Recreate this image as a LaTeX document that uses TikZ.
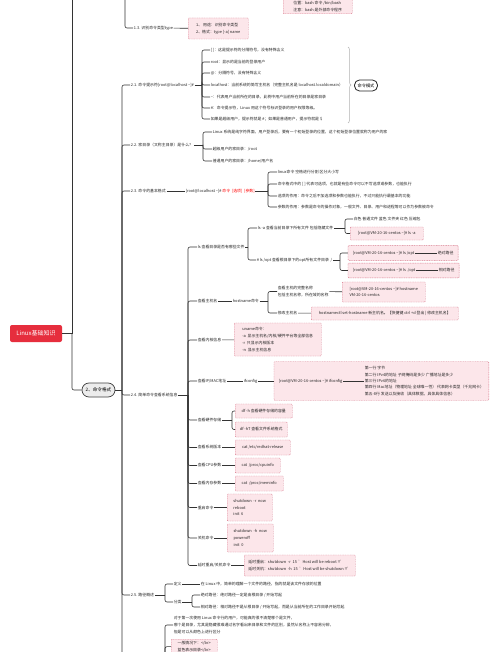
\documentclass[tikz,border=0pt]{standalone}
\usepackage{fontspec}
\setmainfont{Noto Sans CJK SC}
\usetikzlibrary{fit,backgrounds,decorations.pathreplacing}
\definecolor{boxpink}{HTML}{FCE6EA}
\definecolor{boxred}{HTML}{D9798C}
\definecolor{rootred}{HTML}{E62E3D}
\newcommand\mmf{\fontsize{3.9}{6.8}\selectfont}
\begin{document}
\begin{tikzpicture}[x=1pt,y=-1pt,
  lbl/.style={anchor=west, inner sep=0.6pt, font=\mmf, align=left, text=black!85},
  cmd/.style={lbl, draw=boxred, fill=boxpink, dash pattern=on 1pt off 0.7pt, line width=0.45pt, rounded corners=0.8pt, inner xsep=3pt, inner ysep=2pt},
  conn/.style={draw=black!80, line width=0.6pt},
  brk/.style={conn, rounded corners=2pt}]
\useasboundingbox (0,0) rectangle (500,652);

% top part
\node[cmd, anchor=south west, minimum width=69pt] (tb) at (283,14) {位置：bash 命令 /bin/bash\\注意：bash 是外部命令程序};
\coordinate (top1) at (125,-2);
\node[lbl] (n13) at (133,28) {1.3. 识别命令类型type};
\node[cmd, minimum width=60pt, minimum height=21pt] (b13) at (188,28.5) {1、 用途：识别命令类型\\2、格式：type [-a] name};

% root
\node[fill=rootred, text=white, rounded corners=2pt, minimum width=52pt, minimum height=17pt, font=\fontsize{6}{7}\selectfont] (root) at (36,333.5) {Linux基础知识};
\coordinate (j0) at (72,333.5);
\coordinate (top0) at (72,-2);
\node[draw=black!75, fill=gray!15, line width=0.7pt, rounded corners=7pt, minimum width=33pt, minimum height=14pt, font=\fontsize{4.6}{5}\selectfont] (n2) at (98.5,390) {2、命令格式};
\coordinate (b2) at (122,390);
\coordinate (n26) at (130,690);

% 2.1
\node[lbl] (n21) at (130,85) {2.1. 命令提示符[root@localhost \textasciitilde]\#};
\coordinate (b21) at (202,85);
\node[lbl] (p1) at (210,50) {[ ]：这是提示符的分隔符号，没有特殊含义};
\node[lbl] (p2) at (210,62) {root：显示的是当前的登录用户};
\node[lbl] (p3) at (210,73) {@：分隔符号，没有特殊含义};
\node[lbl] (p4) at (210,85) {localhost：当前系统的简写主机名（完整主机名是 localhost.localdomain）};
\node[lbl] (p5) at (210,97) {\textasciitilde：代表用户当前所在的目录，此例中用户当前所在的目录是家目录};
\node[lbl] (p6) at (210,108) {\#：命令提示符，Linux 用这个符号标识登录的用户权限等级。};
\node[lbl] (p7) at (210,119) {如果是超级用户，提示符就是 \#；如果是普通用户，提示符就是 \$};
\draw[decorate, decoration={brace, amplitude=3pt}, gray!60, line width=0.5pt] (348,47) -- (348,123);
\node[draw=black!85, line width=0.8pt, rounded corners=5pt, minimum width=23pt, minimum height=11pt, inner sep=1pt, font=\fontsize{4.2}{5}\selectfont] (mode) at (366,85.5) {命令模式};

% 2.2
\node[lbl] (n22) at (130,145) {2.2. 家目录（又称主目录）是什么？};
\coordinate (b22) at (203,145);
\node[lbl] (h1) at (212,132) {Linux 系统是纯字符界面，用户登录后，要有一个初始登录的位置，这个初始登录位置就称为用户的家};
\node[lbl] (h2) at (212,149) {超级用户的家目录：/root};
\node[lbl] (h3) at (212,161) {普通用户的家目录：/home/用户名};

% 2.3
\node[lbl] (n23) at (130,191) {2.3. 命令的基本格式};
\node[lbl] (fmt) at (185,191) {[root@localhost \textasciitilde]\# \textcolor{red}{命令 \ [选项] \ [参数]}};
\coordinate (b23) at (268,191);
\node[lbl] (f1) at (277,172) {linux命令 空格进行分割 区分大小写};
\node[lbl] (f2) at (277,184) {命令格式中的 [ ] 代表可选项，也就是有些命令可以不写选项或参数，也能执行};
\node[lbl] (f3) at (277,196) {选项的作用：命令之后不加选项和参数也能执行，不过只能执行最基本的功能};
\node[lbl] (f4) at (277,207) {参数的作用：参数是命令的操作对象，一般文件、目录、用户和进程等可以作为参数被命令};

% 2.4
\node[lbl] (n24) at (130,395) {2.4. 简单命令查看系统信息};
\coordinate (b24) at (188,395);
\node[lbl] (s1) at (197,247) {ls 查看目录是否有哪些文件};
\node[lbl] (s2) at (197,301) {查看主机名};
\node[lbl] (s3) at (197,340) {查看内核信息};
\node[lbl] (s4) at (197,381) {查看IP/MAC地址};
\node[lbl] (s5) at (197,420) {查看硬件存储};
\node[lbl] (s6) at (197,447.5) {查看系统版本};
\node[lbl] (s7) at (197,465.5) {查看CPU参数};
\node[lbl] (s8) at (197,483.5) {查看内存参数};
\node[lbl] (s9) at (197,507.5) {重启命令};
\node[lbl] (s10) at (197,538) {关机命令};
\node[lbl] (s11) at (197,565.5) {延时重启/关机命令};

% ls
\coordinate (bls) at (248,247);
\node[lbl] (lsa) at (257,228) {ls -a 查看当前目录下所有文件 包括隐藏文件};
\node[lbl] (lsopt) at (256,260) {\# ls /opt 查看根目录下的opt所有文件目录 \ /};
\coordinate (blsa) at (345,228);
\node[lbl] (colr) at (353,219) {白色 普通文件 蓝色 文件夹 红色 压缩包};
\node[cmd, minimum width=73pt, minimum height=13pt] (lsabox) at (350,233.5) {[root@VM-20-16-centos \textasciitilde]\# ls -a};
\coordinate (blsopt) at (340,260);
\node[lbl] (optA) at (352,253) {[root@VM-20-16-centos \textasciitilde]\# ls /opt};
\node[lbl] (absA) at (437,253) {绝对路径};
\node[lbl] (optB) at (352,270.5) {[root@VM-20-16-centos \textasciitilde]\# ls ./opt};
\node[lbl] (relB) at (438,270.5) {相对路径};

% hostname
\node[lbl] (hn) at (232,301) {hostname命令};
\coordinate (bhn) at (268,301);
\node[lbl] (hn1) at (277,291.5) {查看主机的完整名称\\包括主机名称，所在域的名称};
\node[lbl] (hn2) at (277,313) {修改主机名};
\node[cmd, minimum width=83pt, minimum height=20pt] (hb1) at (342,292) {[root@VM-20-16-centos \textasciitilde]\# hostname\\VM-20-16-centos};
\node[cmd, minimum width=147pt, minimum height=13pt] (hb2) at (311,313.5) {hostnamectl set-hostname 新主机名。【快捷键 ctrl +d 登出 | 修改主机名】};

% kernel, ip
\node[cmd, minimum width=87pt, minimum height=33pt] (kb) at (234,339.5) {uname命令：\\-a \ 显示主机名/内核/硬件平台等全部信息\\-r \ 只显示内核版本\\-n \ 显示主机信息};
\node[lbl] (ifc) at (243,381) {ifconfig};
\node[lbl] (ifcmd) at (278,381) {[root@VM-20-16-centos \textasciitilde]\# ifconfig};
\node[lbl, font=\fontsize{3.9}{6.3}\selectfont] (iflines) at (364,381) {第一行 字节\\第二行 IPv4的地址 子网掩码是多少 广播地址是多少\\第三行 IPv6的地址\\第四行 Mac地址（物理地址 全球唯一性） 代表网卡类型（千兆网卡）\\第五-8行 发送以及接收（具体数据，具体具体信息）};

% df and the rest
\coordinate (bdf) at (232,420);
\node[cmd, minimum width=57pt, minimum height=14pt] (df1) at (235,411) {df -h 查看硬件存储的容量};
\node[cmd, minimum width=52pt, minimum height=15pt] (df2) at (235,429.5) {df -hT 查看文件系统格式};
\node[cmd, minimum width=55pt, minimum height=15pt] (rel) at (235,447.5) {cat /etc/redhat-release};
\node[cmd, minimum width=45pt, minimum height=15pt] (cpu) at (235,465.5) {cat \ /proc/cpuinfo};
\node[cmd, minimum width=48pt, minimum height=15pt] (mem) at (235,483.5) {cat \ /proc/meminfo};
\node[cmd, minimum width=45pt, minimum height=27pt] (rb) at (227,507.5) {shutdown \ -r \ now\\reboot\\init \ 6};
\node[cmd, minimum width=46pt, minimum height=28pt] (pb) at (227,538) {shutdown \ -h \ now\\poweroff\\init \ 0};
\node[cmd, minimum width=111pt, minimum height=21pt] (db) at (244,565.5) {延时重启：shutdown \ -r \ 15 \ 'Host will be reboot !!'\\延时关机：shutdown \ -h \ 15 \ 'Host will be shutdown !!'};

% 2.5
\node[lbl] (n25) at (130,595) {2.5. 路径概述};
\coordinate (b25) at (165,595);
\node[lbl] (def) at (173,584) {定义};
\node[lbl] (defx) at (200,584) {在 Linux 中，简单的理解一个文件的路径，指的就是该文件存放的位置};
\node[lbl] (cls) at (173,602) {分类};
\coordinate (bcls) at (192,602);
\node[lbl] (abs) at (200,595) {绝对路径：绝对路径一定是由根目录 / 开始写起};
\node[lbl] (rel2) at (200,607) {相对路径：相对路径不是从根目录 / 开始写起，而是从当前所在的工作目录开始写起};

% last branch
\coordinate (b26) at (165,690);
\node[lbl] (note) at (173,625) {对于第一次使用 Linux 命令行的用户，可能真的很不清楚哪个是文件，\\哪个是目录，尤其是隐藏很难通过名字看出来目录和文件的区别，虽然从名称上不容易分辨，\\但是可以从颜色上进行区分};
\node[cmd, anchor=north west, minimum width=46pt] (colbox) at (171,639) {一般情况下：</br>\\蓝色表示目录</br>};

\begin{scope}[on background layer]
\fill[white] (0,0) rectangle (500,652);
\node[cmd, anchor=center, fit=(optA)(absA), inner xsep=4pt, inner ysep=4.5pt] (optAbox) {};
\node[cmd, anchor=center, fit=(optB)(relB), inner xsep=4pt, inner ysep=4.5pt] (optBbox) {};
\node[cmd, anchor=center, fit=(ifcmd)(iflines), inner sep=4pt] (ifbox) {};
\end{scope}

\path[brk] (top1) |- (n13);
\path[conn] (n13) -- (b13);
\path[conn] (root) -- (j0);
\path[conn] (j0) -- (top0);
\path[brk] (j0) |- (n2);
\path[conn] (n2) -- (b2);
\path[brk] (b2) |- (n21);
\path[brk] (b2) |- (n22);
\path[brk] (b2) |- (n23);
\path[brk] (b2) |- (n24);
\path[brk] (b2) |- (n25);
\path[brk] (b2) |- (n26);

\path[conn] (n21) -- (b21);
\path[brk] (b21) |- (p1);
\path[brk] (b21) |- (p2);
\path[brk] (b21) |- (p3);
\path[brk] (b21) |- (p4);
\path[brk] (b21) |- (p5);
\path[brk] (b21) |- (p6);
\path[brk] (b21) |- (p7);

\path[conn] (n22) -- (b22);
\path[brk] (b22) |- (h1);
\path[brk] (b22) |- (h2);
\path[brk] (b22) |- (h3);

\path[conn] (n23) -- (fmt);
\path[conn] (fmt) -- (b23);
\path[brk] (b23) |- (f1);
\path[brk] (b23) |- (f2);
\path[brk] (b23) |- (f3);
\path[brk] (b23) |- (f4);

\path[conn] (n24) -- (b24);
\path[brk] (b24) |- (s1);
\path[brk] (b24) |- (s2);
\path[brk] (b24) |- (s3);
\path[brk] (b24) |- (s4);
\path[brk] (b24) |- (s5);
\path[brk] (b24) |- (s6);
\path[brk] (b24) |- (s7);
\path[brk] (b24) |- (s8);
\path[brk] (b24) |- (s9);
\path[brk] (b24) |- (s10);
\path[brk] (b24) |- (s11);

\path[conn] (s1) -- (bls);
\path[brk] (bls) |- (lsa);
\path[brk] (bls) |- (lsopt);
\path[conn] (lsa) -- (blsa);
\path[brk] (blsa) |- (colr);
\path[brk] (blsa) |- (lsabox);
\path[conn] (lsopt) -- (blsopt);
\path[brk] (blsopt) |- (optAbox);
\path[brk] (blsopt) |- (optBbox);
\path[conn] (optA) -- (absA);
\path[conn] (optB) -- (relB);

\path[conn] (s2) -- (hn);
\path[conn] (hn) -- (bhn);
\path[brk] (bhn) |- (hn1);
\path[brk] (bhn) |- (hn2);
\path[conn] (hn1) -- (hb1);
\path[conn] (hn2) -- (hb2);

\path[conn] (s3) -- (kb);
\path[conn] (s4) -- (ifc);
\path[conn] (ifc) -- (ifbox);
\path[conn] (ifcmd) -- (iflines);

\path[conn] (s5) -- (bdf);
\path[brk] (bdf) |- (df1);
\path[brk] (bdf) |- (df2);
\path[conn] (s6) -- (rel);
\path[conn] (s7) -- (cpu);
\path[conn] (s8) -- (mem);
\path[conn] (s9) -- (rb);
\path[conn] (s10) -- (pb);
\path[conn] (s11) -- (db);

\path[conn] (n25) -- (b25);
\path[brk] (b25) |- (def);
\path[brk] (b25) |- (cls);
\path[conn] (def) -- (defx);
\path[conn] (cls) -- (bcls);
\path[brk] (bcls) |- (abs);
\path[brk] (bcls) |- (rel2);

\path[brk] (b26) |- (note);
\path[brk] (b26) |- (colbox);
\end{tikzpicture}
\end{document}
